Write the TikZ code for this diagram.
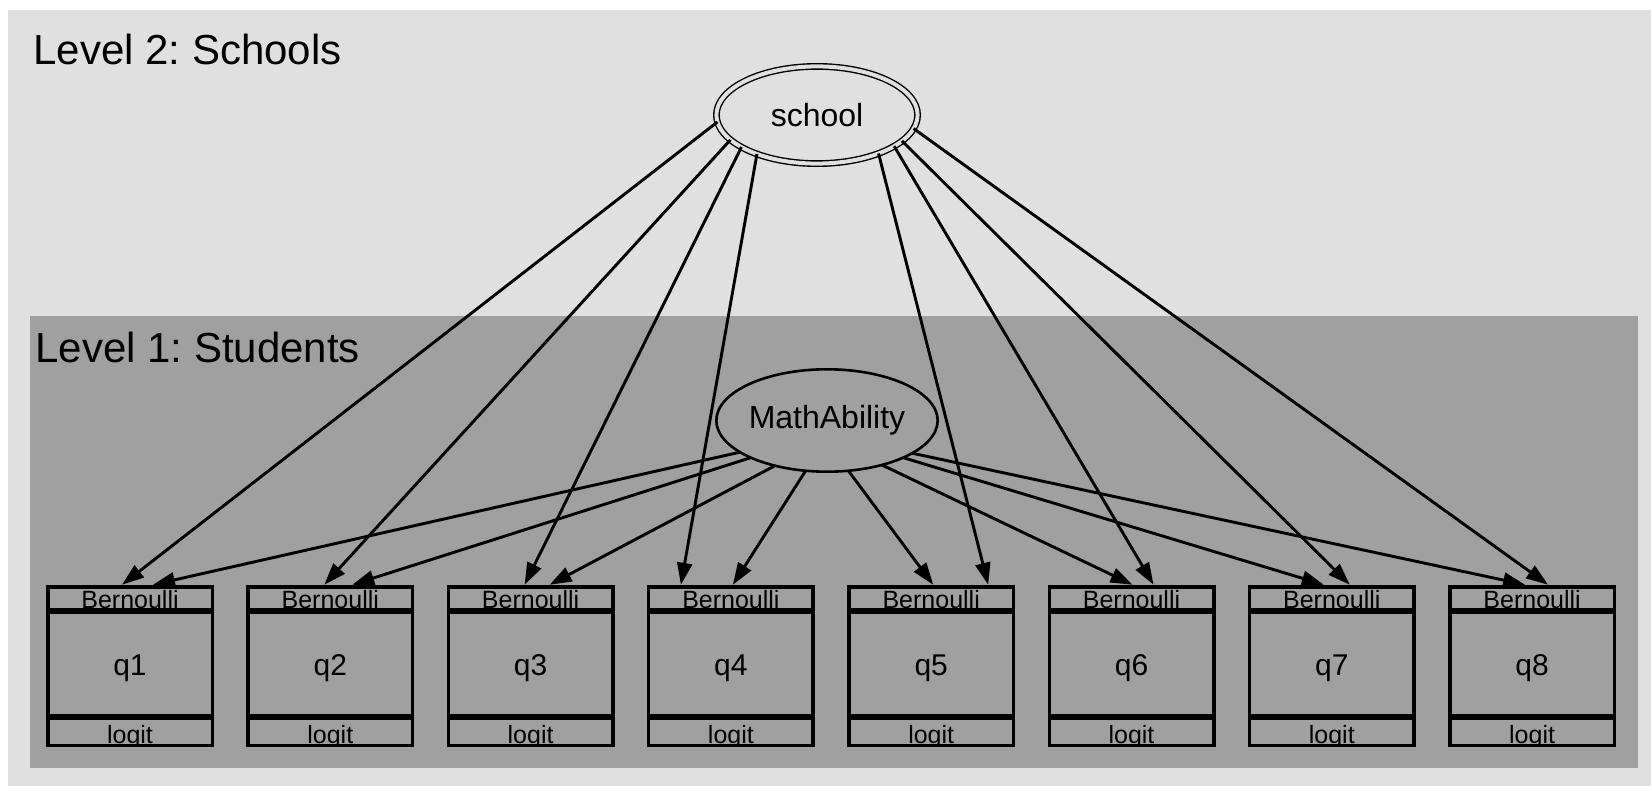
\documentclass[tikz,border=0pt]{standalone}
\usepackage{fontspec}
\setmainfont{Liberation Sans}
\usetikzlibrary{shapes.geometric,arrows.meta,calc}
\definecolor{lvltwo}{RGB}{224,224,224}
\definecolor{lvlone}{RGB}{160,160,160}
\frenchspacing
\begin{document}
\begin{tikzpicture}[x=0.5pt,y=-0.5pt,
  conn/.style={line width=1.45pt,-{Triangle[length=11pt,width=7.5pt]}},
  lvllabel/.style={anchor=base west,inner sep=0pt,font=\fontsize{21}{25}\selectfont},
  schoolnode/.style={ellipse,draw,line width=0.7pt,double=lvltwo,double distance=2pt,
     minimum width=100.6pt,minimum height=48.6pt,inner sep=0pt,outer sep=0pt,
     font=\fontsize{16}{19}\selectfont},
  latentnode/.style={ellipse,draw,line width=1.3pt,minimum width=102.7pt,minimum height=51.2pt,
     inner sep=0pt,outer sep=0pt,font=\fontsize{16}{19}\selectfont},
  boxnode/.style={rectangle,minimum width=82.25pt,minimum height=79.25pt,inner sep=0pt,outer sep=0pt},
  boxline/.style={line width=1.75pt},
  divline/.style={line width=2.8pt},
  smalltext/.style={anchor=base,inner sep=0pt,font=\fontsize{12.5}{14}\selectfont},
  qtext/.style={inner sep=0pt,font=\fontsize{15}{18}\selectfont}
]
\useasboundingbox (0,0) rectangle (1651,786);
\fill[white] (0,0) rectangle (1651,786);
\fill[lvltwo] (8,10) rectangle (1651,786);
\fill[lvlone] (30,316) rectangle (1638,768);
\node[lvllabel] (l2) at (33,65) {Level 2: Schools};
\node[lvllabel] (l1) at (35,363) {Level 1: Students};
\node[schoolnode] (school) at (817,115) {school};
\node[latentnode] (math) at (827,420.5) {MathAbility};
\foreach \i in {1,...,8} {
  \pgfmathsetmacro\cx{130+200.3*(\i-1)}
  \node[boxnode] (q\i) at (\cx,666) {};
  \begin{scope}
    \clip (q\i.north west) rectangle (q\i.south east);
    \node[smalltext] (b\i) at (\cx,608) {Bernoulli};
    \node[smalltext] (g\i) at (\cx,743) {logit};
  \end{scope}
  \node[qtext] (t\i) at (\cx,668) {q\i};
  \draw[boxline] (q\i.north west) rectangle (q\i.south east);
  \draw[divline] (q\i.west |- 0,611) -- (q\i.east |- 0,611);
  \draw[divline] (q\i.west |- 0,717) -- (q\i.east |- 0,717);
}
\foreach \i/\sa/\sd/\ma/\md in {1/184.5/-8/200.5/23, 2/196.6/-6/206.6/22, 3/203.7/-6/221.3/19,
    4/213.7/-50/247.3/2, 5/328.4/57/293.7/2, 6/338.2/22/321.6/1, 7/343.6/18/334.9/-8, 8/352.4/16/339.7/-7} {
  \draw[conn] (school.\sa) -- ($(q\i.north)+(\sd,-2)$);
  \draw[conn] (math.\ma) -- ($(q\i.north)+(\md,-2)$);
}
\end{tikzpicture}
\end{document}
